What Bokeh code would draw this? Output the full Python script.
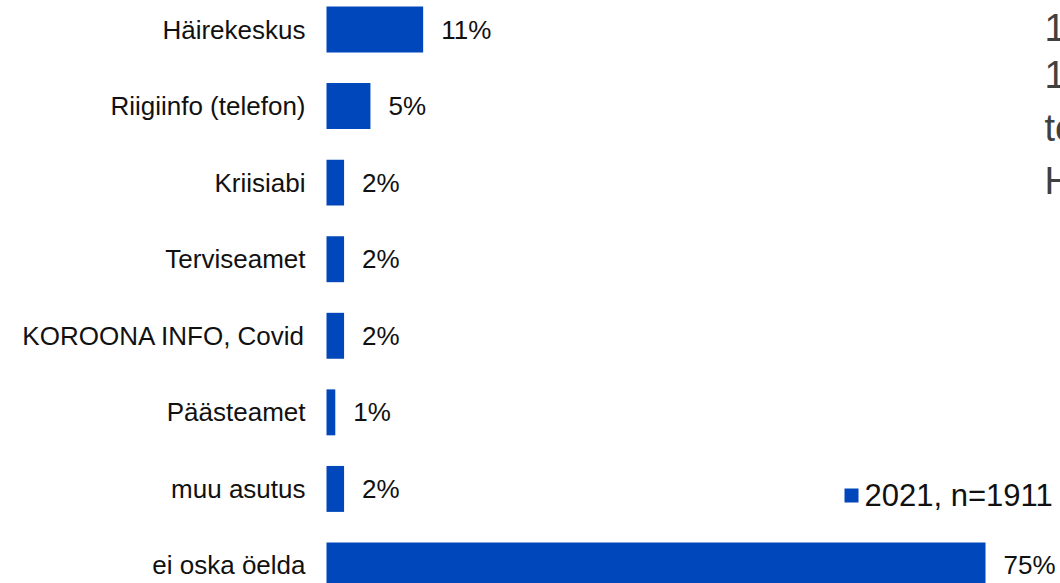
from bokeh.plotting import figure
from bokeh.models import Range1d, ColumnDataSource, Label
from bokeh.embed import file_html
from bokeh.resources import INLINE
from bokeh.core.properties import value

categories = ["Häirekeskus", "Riigiinfo (telefon)", "Kriisiabi", "Terviseamet",
              "KOROONA INFO, Covid", "Päästeamet", "muu asutus", "ei oska öelda"]
values = [11, 5, 2, 2, 2, 1, 2, 75]
value_labels = ["11%", "5%", "2%", "2%", "2%", "1%", "2%", "75%"]
series_name = "2021, n=1911"
side_lines = ["1", "1", "te", "H"]

W, H = 1060, 583
x0_px = 326.0
px_per_unit = 8.787
row0_px = 29.0
row_px = 76.57

def y_of(px):
    return (px - row0_px) / row_px

def x_of(px):
    return (px - x0_px) / px_per_unit

rows = list(range(len(categories)))
src = ColumnDataSource(dict(y=rows, v=values, cat=categories, lab=value_labels,
                            zero=[0] * len(rows)))

p = figure(width=W, height=H, output_backend="svg", toolbar_location=None,
           x_range=Range1d(x_of(0), x_of(W)), y_range=Range1d(y_of(H), y_of(0)),
           min_border=0, min_border_left=0, min_border_right=0,
           min_border_top=0, min_border_bottom=0)
p.axis.visible = False
p.grid.visible = False
p.outline_line_color = None
p.background_fill_color = "white"
p.border_fill_color = "white"

BLUE = "#0047BB"
FONT = value("Liberation Sans")

p.hbar(y="y", left="zero", right="v", height=0.6, source=src,
       fill_color=BLUE, line_color=None)

p.text(x="zero", y="y", text="cat", source=src, x_offset=-21,
       text_align="right", text_baseline="middle", text_font=FONT,
       text_font_size="26px", text_color="#111111")
p.text(x="v", y="y", text="lab", source=src, x_offset=18,
       text_align="left", text_baseline="middle", text_font=FONT,
       text_font_size="26px", text_color="#111111")

# legend (manual)
leg_y = y_of(495)
p.scatter(x=[x_of(851)], y=[leg_y], marker="square", size=14,
          fill_color=BLUE, line_color=None)
p.text(x=[x_of(864)], y=[leg_y], text=[series_name], text_align="left",
       text_baseline="middle", text_font=FONT, text_font_size="31px",
       text_color="#111111")

# clipped side text at right edge
baselines = [27, 74, 127, 180]
for t, b in zip(side_lines, baselines):
    p.add_layout(Label(x=x_of(1044), y=y_of(b), text=t, text_font="Liberation Sans",
                       text_font_size="38px", text_color="#404040",
                       text_baseline="alphabetic", text_align="left"))

open("out.html", "w").write(file_html(p, INLINE))
